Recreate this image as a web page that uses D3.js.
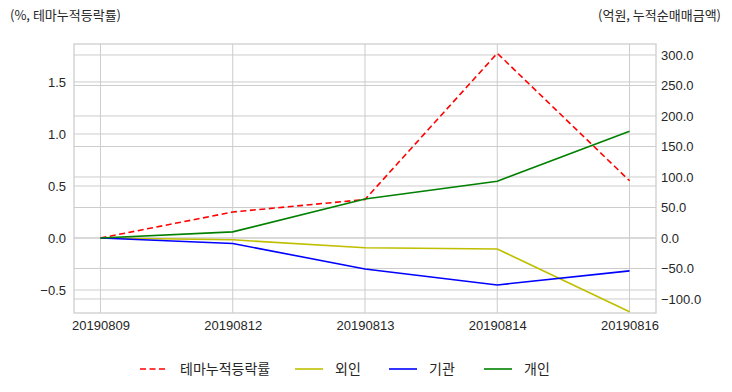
<!DOCTYPE html>
<html><head><meta charset="utf-8">
<script src="https://cdn.jsdelivr.net/npm/d3@7"></script>
<style>body{margin:0;background:#fff;}svg{display:block;}</style>
</head><body>
<svg id="c" width="732" height="392"></svg>
<script>
const dates = ["20190809","20190812","20190813","20190814","20190816"];
const themeRate = [0, 0.25, 0.37, 1.776, 0.55];
const foreign = [0, -3, -16, -18, -121];
const institution = [0, -9, -51, -77, -54];
const individual = [0, 10, 64, 93, 175];
const leftTicks = [-0.5, 0.0, 0.5, 1.0, 1.5];
const rightTicks = [-100, -50, 0, 50, 100, 150, 200, 250, 300];
const leftTitle = "(%, 테마누적등락률)";
const rightTitle = "(억원, 누적순매매금액)";
const legendNames = ["테마누적등락률", "외인", "기관", "개인"];

const svg = d3.select("#c");
const L = 74, R = 656, T = 44, B = 313;
const x = d3.scaleLinear().domain([-0.2, dates.length - 1 + 0.2]).range([L, R]);
const yL = d3.scaleLinear().domain([-0.721, 1.865]).range([B, T]);
const yR = d3.scaleLinear().domain([-123, 318]).range([B, T]);
const grid = "#cccccc";
const tickFont = "'Liberation Sans', Arial, sans-serif";
const korFont = "'Noto Sans CJK KR', sans-serif";

// gridlines
const g = svg.append("g");
g.selectAll(".gl").data(leftTicks).join("line")
  .attr("x1", L).attr("x2", R).attr("y1", d => yL(d)).attr("y2", d => yL(d))
  .attr("stroke", grid).attr("stroke-width", 1);
g.selectAll(".gr").data(rightTicks).join("line")
  .attr("x1", L).attr("x2", R).attr("y1", d => yR(d)).attr("y2", d => yR(d))
  .attr("stroke", grid).attr("stroke-width", 1);
g.selectAll(".gx").data(dates).join("line")
  .attr("x1", (d,i) => x(i)).attr("x2", (d,i) => x(i)).attr("y1", T).attr("y2", B)
  .attr("stroke", grid).attr("stroke-width", 1);
// frame
svg.append("rect").attr("x", L).attr("y", T).attr("width", R - L).attr("height", B - T)
  .attr("fill", "none").attr("stroke", grid).attr("stroke-width", 1.25);

// axes via d3
const axL = d3.axisLeft(yL).tickValues(leftTicks).tickFormat(d3.format(".1f")).tickSize(0).tickPadding(8);
const axR = d3.axisRight(yR).tickValues(rightTicks).tickFormat(d3.format(".1f")).tickSize(0).tickPadding(5);
const axB = d3.axisBottom(x).tickValues(d3.range(dates.length)).tickFormat(i => dates[i]).tickSize(0).tickPadding(8);
function style(sel){ sel.select(".domain").remove(); sel.selectAll("text").attr("font-family", tickFont).attr("font-size", "13px").attr("fill", "#262626"); }
svg.append("g").attr("transform", `translate(${L},0)`).call(axL).call(style);
svg.append("g").attr("transform", `translate(${R},0)`).call(axR).call(style);
svg.append("g").attr("transform", `translate(0,${B})`).call(axB).call(style);

// lines
svg.append("clipPath").attr("id", "clp").append("rect").attr("x", L).attr("y", T - 2).attr("width", R - L).attr("height", B - T + 4);
const lineL = d3.line().x((d,i) => x(i)).y(d => yL(d));
const lineR = d3.line().x((d,i) => x(i)).y(d => yR(d));
const lg = svg.append("g").attr("clip-path", "url(#clp)");
lg.append("path").datum(themeRate).attr("d", lineL).attr("fill", "none").attr("stroke", "#ff0000").attr("stroke-width", 1.6).attr("stroke-dasharray", "6,3.5");
lg.append("path").datum(foreign).attr("d", lineR).attr("fill", "none").attr("stroke", "#bfbf00").attr("stroke-width", 1.6);
lg.append("path").datum(institution).attr("d", lineR).attr("fill", "none").attr("stroke", "#0000ff").attr("stroke-width", 1.6);
lg.append("path").datum(individual).attr("d", lineR).attr("fill", "none").attr("stroke", "#008000").attr("stroke-width", 1.6);

// titles
svg.append("text").attr("x", 10).attr("y", 20).text(leftTitle)
  .attr("font-family", korFont).attr("font-size", "13px").attr("fill", "#262626");
svg.append("text").attr("x", 721).attr("y", 20).attr("text-anchor", "end").text(rightTitle)
  .attr("font-family", korFont).attr("font-size", "13px").attr("fill", "#262626");

// legend
const legColors = ["#ff0000", "#bfbf00", "#0000ff", "#008000"];
const legX = [140, 295, 389, 484];
const ly = 369;
legendNames.forEach((n, i) => {
  svg.append("line").attr("x1", legX[i]).attr("x2", legX[i] + 28).attr("y1", ly).attr("y2", ly)
    .attr("stroke", legColors[i]).attr("stroke-width", 1.6)
    .attr("stroke-dasharray", i === 0 ? "6,3.5" : null);
  svg.append("text").attr("x", legX[i] + 40).attr("y", ly + 5).text(n)
    .attr("font-family", korFont).attr("font-size", "14px").attr("fill", "#262626");
});
</script>
</body></html>
